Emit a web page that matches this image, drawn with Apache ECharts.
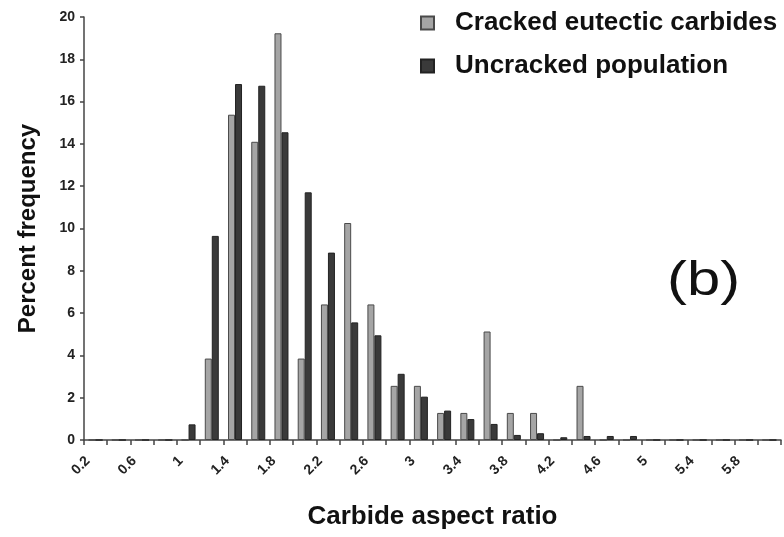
<!DOCTYPE html>
<html>
<head>
<meta charset="utf-8">
<script src="https://cdn.jsdelivr.net/npm/echarts@6/dist/echarts.min.js"></script>
<style>
  html, body { margin: 0; padding: 0; background: #fff; }
  #chart { width: 784px; height: 537px; }
</style>
</head>
<body>
<div id="chart"></div>
<script>
// Aspect-ratio bins (0.2 wide), 0.2 .. 6.0
const aspectBins = ['0.2','0.4','0.6','0.8','1','1.2','1.4','1.6','1.8','2','2.2','2.4','2.6','2.8','3',
                    '3.2','3.4','3.6','3.8','4','4.2','4.4','4.6','4.8','5','5.2','5.4','5.6','5.8','6'];

// Percent frequency per bin
const crackedEutectic = [0, 0, 0, 0, 0, 3.85, 15.38, 14.10, 19.23, 3.85, 6.41, 10.26, 6.41, 2.56, 2.56,
                         1.28, 1.28, 5.13, 1.28, 1.28, 0, 2.56, 0, 0, 0, 0, 0, 0, 0, 0];
const uncrackedPopulation = [0, 0, 0, 0, 0.74, 9.65, 16.83, 16.75, 14.55, 11.71, 8.86, 5.56, 4.95, 3.13, 2.05,
                             1.39, 0.99, 0.76, 0.24, 0.32, 0.13, 0.19, 0.19, 0.19, 0, 0, 0, 0, 0, 0];

const yTicks = { min: 0, max: 20, interval: 2 };

const FONT = '"Liberation Sans", Arial, sans-serif';
const chart = echarts.init(document.getElementById('chart'), null, { renderer: 'canvas' });

chart.setOption({
  animation: false,
  backgroundColor: '#ffffff',
  grid: { left: 84, right: 3, top: 17, bottom: 97, containLabel: false, outerBoundsMode: 'none' },
  legend: {
    orient: 'vertical',
    left: 415,
    top: 5,
    itemWidth: 13,
    itemHeight: 13,
    itemGap: 17,
    icon: 'rect',
    textStyle: { fontFamily: FONT, fontWeight: 'bold', fontSize: 26, color: '#111', padding: [0, 0, 0, 16] },
    data: ['Cracked eutectic carbides', 'Uncracked population']
  },
  xAxis: {
    type: 'category',
    data: aspectBins,
    boundaryGap: true,
    name: 'Carbide aspect ratio',
    nameLocation: 'middle',
    nameGap: 64,
    nameTextStyle: { fontFamily: FONT, fontWeight: 'bold', fontSize: 26, color: '#111' },
    axisLine: { lineStyle: { color: '#444', width: 1.5 } },
    axisTick: { show: true, interval: 0, length: 5, lineStyle: { color: '#444', width: 1.5 } },
    axisLabel: {
      interval: 1,
      rotate: 45,
      margin: 11,
      padding: [0, 11, 0, 0],
      fontFamily: FONT,
      fontWeight: 'bold',
      fontSize: 14,
      color: '#222'
    },
    splitLine: { show: false }
  },
  yAxis: {
    type: 'value',
    min: yTicks.min,
    max: yTicks.max,
    interval: yTicks.interval,
    name: 'Percent frequency',
    nameLocation: 'middle',
    nameGap: 44,
    nameRotate: 90,
    nameTextStyle: { fontFamily: FONT, fontWeight: 'bold', fontSize: 24, color: '#111' },
    axisLine: { show: true, lineStyle: { color: '#444', width: 1.5 } },
    axisTick: { show: true, length: 4, lineStyle: { color: '#444', width: 1.5 } },
    axisLabel: { margin: 9, fontFamily: FONT, fontWeight: 'bold', fontSize: 14, color: '#222' },
    splitLine: { show: false }
  },
  series: [
    {
      name: 'Cracked eutectic carbides',
      type: 'bar',
      data: crackedEutectic,
      barWidth: 7,
      barGap: '0%',
      itemStyle: { color: '#a5a5a5', borderColor: '#4a4a4a', borderWidth: 1 }
    },
    {
      name: 'Uncracked population',
      type: 'bar',
      data: uncrackedPopulation,
      barWidth: 7,
      barGap: '0%',
      itemStyle: { color: '#3a3a3a', borderColor: '#222', borderWidth: 1 }
    }
  ],
  graphic: [
    {
      type: 'text',
      x: 667,
      y: 257,
      scaleX: 1.22,
      style: { text: '(b)', fontFamily: FONT, fontSize: 49, fill: '#111' }
    }
  ]
});
</script>
</body>
</html>
